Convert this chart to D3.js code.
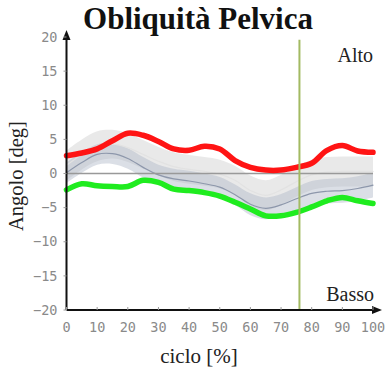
<!DOCTYPE html>
<html>
<head>
<meta charset="utf-8">
<script src="https://cdn.jsdelivr.net/npm/d3@7"></script>
<style>
  body { margin: 0; background: #fff; }
  svg { display: block; }
</style>
</head>
<body>
<div id="chart"></div>
<script>
// ciclo del passo, campionato ogni 5%
const ciclo = [0,5,10,15,20,25,30,35,40,45,50,55,60,65,70,75,80,85,90,95,100];

// lato destro (rosso) e sinistro (verde)
const destro   = [2.6,3.0,3.6,4.8,5.9,5.6,4.7,3.6,3.4,4.0,3.6,1.9,0.9,0.5,0.5,0.9,1.5,3.4,4.1,3.3,3.1];
const sinistro = [-2.4,-1.5,-1.8,-1.9,-1.9,-1.0,-1.3,-2.3,-2.5,-2.8,-3.3,-4.2,-5.2,-6.2,-6.2,-5.7,-4.9,-4.0,-3.5,-4.0,-4.4];

// fasce normative (media e deviazione)
const normaChiaraMedia = [1.2,2.8,4.0,4.3,3.8,2.8,1.8,1.0,0.6,0.3,-0.1,-1.0,-2.5,-3.2,-2.4,-1.2,-0.2,0.2,0.3,0.3,0.3];
const normaChiaraDev   = [2.2,2.2,2.2,2.1,2.1,2.1,2.1,2.1,2.1,2.1,2.1,2.1,2.2,2.2,2.2,2.2,2.2,2.2,2.2,2.2,2.2];
const normaScuraMedia  = [0.1,1.6,2.8,2.9,2.2,0.9,-0.2,-0.8,-1.1,-1.5,-2.0,-3.1,-4.5,-5.1,-4.6,-3.7,-2.9,-2.6,-2.5,-2.2,-1.7];
const normaScuraDev    = [1.5,1.5,1.5,1.5,1.5,1.5,1.5,1.5,1.5,1.5,1.5,1.5,1.6,1.6,1.6,1.7,1.8,1.8,1.8,1.8,1.8];

const yTicks = [-20,-15,-10,-5,0,5,10,15,20];
const xTicks = [0,10,20,30,40,50,60,70,80,90,100];
const toeOff = 76; // fine appoggio

const width = 390, height = 372;
const margin = { top: 37, right: 17, bottom: 62, left: 66.5 };

const svg = d3.select("#chart").append("svg")
  .attr("width", width)
  .attr("height", height);

const x = d3.scaleLinear().domain([0, 100]).range([margin.left, width - margin.right]);
const y = d3.scaleLinear().domain([-20, 20]).range([height - margin.bottom, margin.top]);

// fasce
function band(media, dev, fill) {
  const area = d3.area()
    .curve(d3.curveCatmullRom)
    .x((d, i) => x(ciclo[i]))
    .y0((d, i) => y(media[i] - dev[i]))
    .y1((d, i) => y(media[i] + dev[i]));
  svg.append("path").attr("d", area(media)).attr("fill", fill);
}
function linea(vals, color, w) {
  const line = d3.line()
    .curve(d3.curveCatmullRom)
    .x((d, i) => x(ciclo[i]))
    .y(d => y(d));
  svg.append("path").attr("d", line(vals))
    .attr("fill", "none").attr("stroke", color).attr("stroke-width", w)
    .attr("stroke-linecap", "round").attr("stroke-linejoin", "round");
}

band(normaChiaraMedia, normaChiaraDev, "rgba(215,215,215,0.55)");
band(normaScuraMedia, normaScuraDev, "rgba(175,184,200,0.45)");
linea(normaChiaraMedia, "#e2e2e2", 1.2);
linea(normaScuraMedia, "#8d97ab", 1.2);

// linea dello zero
svg.append("line")
  .attr("x1", x(0)).attr("x2", x(100))
  .attr("y1", y(0)).attr("y2", y(0))
  .attr("stroke", "#999").attr("stroke-width", 1.5);

linea(destro, "#ff1414", 5.5);
linea(sinistro, "#1fec1f", 5.5);

// linea verticale
svg.append("line")
  .attr("x1", x(toeOff)).attr("x2", x(toeOff))
  .attr("y1", y(19.6)).attr("y2", y(-20))
  .attr("stroke", "#a3ba62").attr("stroke-width", 2);

// assi con frecce
const defs = svg.append("defs");
defs.append("marker")
  .attr("id", "freccia")
  .attr("viewBox", "0 0 10 10")
  .attr("refX", 5).attr("refY", 5)
  .attr("markerWidth", 5).attr("markerHeight", 5)
  .attr("orient", "auto")
  .append("path").attr("d", "M0,1 L10,5 L0,9 Z").attr("fill", "#111");

svg.append("line")
  .attr("x1", x(0)).attr("x2", x(100) + 4)
  .attr("y1", y(-20)).attr("y2", y(-20))
  .attr("stroke", "#111").attr("stroke-width", 2)
  .attr("marker-end", "url(#freccia)");
svg.append("line")
  .attr("x1", x(0)).attr("x2", x(0))
  .attr("y1", y(-20)).attr("y2", y(20) - 2)
  .attr("stroke", "#111").attr("stroke-width", 2)
  .attr("marker-end", "url(#freccia)");

const tickFont = "'DejaVu Sans Mono', monospace";

svg.append("g").selectAll("text")
  .data(yTicks).enter().append("text")
  .attr("x", x(0) - 9)
  .attr("y", d => y(d))
  .attr("dy", "0.35em")
  .attr("text-anchor", "end")
  .attr("font-family", tickFont).attr("font-size", 13.5)
  .attr("fill", "#8a8a8a")
  .text(d => d < 0 ? "\u2212" + Math.abs(d) : d);

svg.append("g").selectAll("line")
  .data(yTicks).enter().append("line")
  .attr("x1", x(0) - 3).attr("x2", x(0))
  .attr("y1", d => y(d)).attr("y2", d => y(d))
  .attr("stroke", "#999").attr("stroke-width", 1);

svg.append("g").selectAll("text")
  .data(xTicks).enter().append("text")
  .attr("x", d => x(d))
  .attr("y", y(-20) + 22)
  .attr("text-anchor", "middle")
  .attr("font-family", tickFont).attr("font-size", 13.5)
  .attr("fill", "#8a8a8a")
  .text(d => d);

svg.append("g").selectAll("line")
  .data(xTicks).enter().append("line")
  .attr("x1", d => x(d)).attr("x2", d => x(d))
  .attr("y1", y(-20) - 3).attr("y2", y(-20))
  .attr("stroke", "#999").attr("stroke-width", 1);

// testi
const serif = "'Liberation Serif', 'Times New Roman', serif";
svg.append("text")
  .attr("x", 198).attr("y", 29)
  .attr("text-anchor", "middle")
  .attr("font-family", serif).attr("font-weight", "bold").attr("font-size", 31)
  .attr("fill", "#111")
  .text("Obliquità Pelvica");

svg.append("text")
  .attr("x", 373).attr("y", 62)
  .attr("text-anchor", "end")
  .attr("font-family", serif).attr("font-size", 20)
  .attr("fill", "#222")
  .text("Alto");

svg.append("text")
  .attr("x", 374).attr("y", 301)
  .attr("text-anchor", "end")
  .attr("font-family", serif).attr("font-size", 20)
  .attr("fill", "#222")
  .text("Basso");

svg.append("text")
  .attr("x", 199).attr("y", 363)
  .attr("text-anchor", "middle")
  .attr("font-family", serif).attr("font-size", 21)
  .attr("fill", "#222")
  .text("ciclo [%]");

svg.append("text")
  .attr("transform", "translate(23,176) rotate(-90)")
  .attr("text-anchor", "middle")
  .attr("font-family", serif).attr("font-size", 20.5)
  .attr("fill", "#222")
  .text("Angolo [deg]");
</script>
</body>
</html>
